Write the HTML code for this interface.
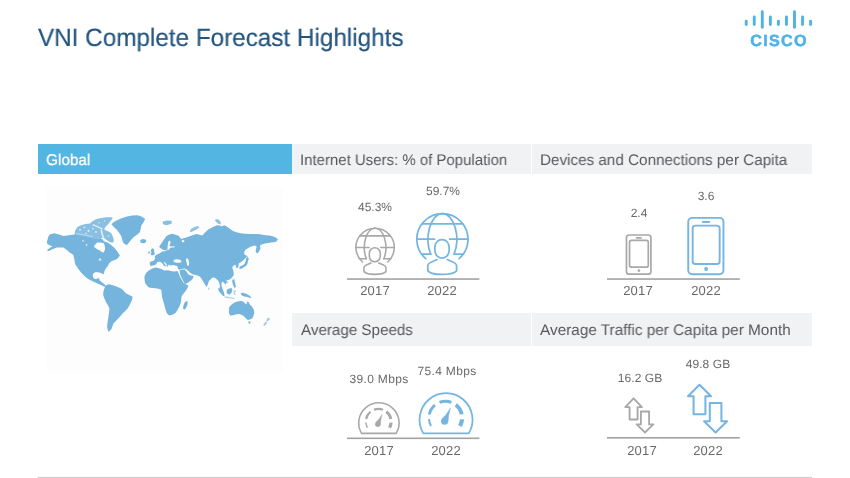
<!DOCTYPE html>
<html>
<head>
<meta charset="utf-8">
<title>VNI Complete Forecast Highlights</title>
<style>
html,body{margin:0;padding:0;background:#fff;}
body{width:850px;height:478px;position:relative;overflow:hidden;font-family:"Liberation Sans",sans-serif;text-rendering:geometricPrecision;}
.abs{position:absolute;white-space:nowrap;}
.title{left:37.65px;top:23.3px;font-size:25.1px;line-height:30px;color:#23557f;-webkit-text-stroke:0.2px #23557f;transform-origin:0 50%;transform:scaleX(0.967);will-change:transform;}
.hdr{position:absolute;background:#f0f2f4;}
.hdr span{position:absolute;left:8.25px;font-size:15.4px;color:#56585b;white-space:nowrap;transform-origin:0 50%;will-change:transform;}
.h1 span{top:7.72px;line-height:18px;}
.h2 span{top:8.6px;line-height:18px;}
.val{position:absolute;font-size:12px;line-height:14px;color:#696969;white-space:nowrap;transform:translateX(-50%);will-change:transform;}
.yr{position:absolute;font-size:13px;line-height:14px;letter-spacing:0.2px;color:#6a6a6a;white-space:nowrap;transform:translateX(-50%);will-change:transform;}
svg{position:absolute;left:0;top:0;will-change:transform;}
</style>
</head>
<body>
<div class="abs title">VNI Complete Forecast Highlights</div>

<!-- header bars -->
<div class="hdr h1" style="left:38px;top:144px;width:254px;height:30px;background:#53b5e2;"><span style="color:#fff;top:7.95px;left:8.4px;font-size:15.4px;-webkit-text-stroke:0.3px #fff;transform:scaleX(0.995);">Global</span></div>
<div class="hdr h1" style="left:292px;top:144px;width:238.5px;height:30px;"><span style="transform:scaleX(0.9726);">Internet Users: % of Population</span></div>
<div class="hdr h1" style="left:532px;top:144px;width:280px;height:30px;"><span style="left:8.2px;transform:scaleX(0.9896);">Devices and Connections per Capita</span></div>
<div class="hdr h2" style="left:292px;top:313px;width:238.5px;height:33px;"><span style="left:8.9px;transform:scaleX(0.9857);">Average Speeds</span></div>
<div class="hdr h2" style="left:532px;top:313px;width:280px;height:33px;"><span style="left:8.2px;transform:scaleX(0.9955);">Average Traffic per Capita per Month</span></div>

<!-- values -->
<div class="val" style="left:374.8px;top:199.5px;">45.3%</div>
<div class="val" style="left:442.6px;top:184.1px;">59.7%</div>
<div class="val" style="left:638.6px;top:205.7px;">2.4</div>
<div class="val" style="left:706.4px;top:189.15px;">3.6</div>
<div class="val" style="left:379.2px;top:372.4px;letter-spacing:0.35px;">39.0 Mbps</div>
<div class="val" style="left:446.9px;top:364px;letter-spacing:0.35px;">75.4 Mbps</div>
<div class="val" style="left:639.5px;top:371.4px;letter-spacing:0.05px;">16.2 GB</div>
<div class="val" style="left:708.2px;top:356.95px;letter-spacing:0.1px;">49.8 GB</div>

<!-- years -->
<div class="yr" style="left:374.6px;top:283.75px;">2017</div>
<div class="yr" style="left:442.2px;top:283.75px;">2022</div>
<div class="yr" style="left:638.3px;top:283.75px;">2017</div>
<div class="yr" style="left:706px;top:283.75px;">2022</div>
<div class="yr" style="left:378.7px;top:444.25px;">2017</div>
<div class="yr" style="left:445.9px;top:444.25px;">2022</div>
<div class="yr" style="left:642.3px;top:444.25px;">2017</div>
<div class="yr" style="left:707.5px;top:444.25px;">2022</div>

<svg width="850" height="478" viewBox="0 0 850 478">
<!-- bottom rule -->
<rect x="37.6" y="476.9" width="774.5" height="1.1" fill="#cecece"/>
<!-- baselines -->
<g fill="#a3a3a3">
<rect x="347" y="278.25" width="132.4" height="1.6"/>
<rect x="607" y="278.25" width="132.8" height="1.6"/>
<rect x="347" y="437.5" width="132.4" height="1.6"/>
<rect x="607" y="437.0" width="132.8" height="1.6"/>
</g>
<!--LOGO-->
<g stroke="#4fb3e5" stroke-width="2.9" stroke-linecap="round" fill="none"><path d="M746.20,21.1 L746.20,24.5"/><path d="M754.25,17.0 L754.25,24.5"/><path d="M762.30,11.7 L762.30,27.2"/><path d="M770.35,17.0 L770.35,24.5"/><path d="M778.40,21.1 L778.40,24.5"/><path d="M786.45,17.0 L786.45,24.5"/><path d="M794.50,11.7 L794.50,27.2"/><path d="M802.55,17.0 L802.55,24.5"/><path d="M810.60,21.1 L810.60,24.5"/></g><text x="779.0" y="45.5" text-anchor="middle" font-family="Liberation Sans, sans-serif" font-weight="bold" font-size="16.1" letter-spacing="1.3" fill="#4fb3e5" stroke="#4fb3e5" stroke-width="0.55" transform="translate(779 0) scale(1.002 1) translate(-779 0)">CISCO</text>
<!--/LOGO-->
<!--MAP-->
<defs><filter id="mb" x="-5%" y="-5%" width="110%" height="110%"><feGaussianBlur stdDeviation="0.45"/></filter></defs>
<rect x="46" y="188" width="237" height="183" fill="#fdfdfd"/>
<g fill="#74b4dd" filter="url(#mb)">
<path d="M47.2,241.1 L48.2,237.0 L49.6,234.6 L54.4,233.3 L59.0,234.6 L63.5,235.9 L69.0,235.2 L74.5,234.6 L80.0,235.5 L85.0,236.5 L90.7,237.9 L94.0,238.2 L97.5,238.6 L100.5,238.2 L102.6,239.6 L104.8,241.4 L107.5,242.6 L110.5,244.6 L114.0,247.6 L117.0,251.0 L119.9,255.4 L118.5,257.5 L116.6,259.3 L114.0,260.3 L111.4,261.2 L109.0,263.5 L108.0,265.7 L106.0,268.2 L104.5,271.0 L104.1,273.0 L103.6,274.6 L102.2,273.5 L100.0,272.8 L97.8,272.2 L95.6,271.9 L93.6,273.3 L92.6,275.5 L93.2,277.6 L94.7,279.0 L96.6,278.9 L98.2,278.1 L99.5,279.3 L100.0,280.8 L101.8,282.3 L103.6,283.5 L105.4,285.2 L106.2,286.6 L104.5,286.8 L102.0,285.6 L99.1,284.3 L96.5,283.0 L93.8,281.7 L90.0,279.9 L86.7,278.1 L84.0,275.6 L81.3,272.8 L78.0,268.5 L75.1,263.9 L74.4,259.5 L73.3,255.0 L71.5,253.5 L69.9,252.8 L66.5,249.8 L63.5,247.6 L60.0,247.4 L57.0,247.6 L54.0,248.5 L50.5,250.2 L47.6,251.2 L47.5,249.5 L50.6,247.6 L52.6,246.2 L50.2,245.4 L48.0,244.5 L46.8,243.0Z"/>
<path d="M74.5,234.8 L75.2,230.2 L77.5,227.0 L81.0,225.2 L85.5,224.0 L90.0,223.6 L92.6,221.2 L96.0,219.2 L101.0,217.9 L106.5,217.3 L112.2,217.2 L112.6,218.6 L110.4,221.0 L108.8,223.4 L106.8,225.6 L105.0,227.4 L104.2,229.4 L106.0,230.4 L108.6,231.6 L111.4,233.6 L113.0,237.0 L113.9,240.1 L113.2,242.4 L111.0,242.6 L108.6,241.2 L106.6,240.0 L104.8,238.6 L102.6,237.8 L100.5,238.4 L97.5,238.8 L94.0,238.6 L90.7,238.2 L85.0,237.0 L80.0,236.0Z" fill-opacity="0.86"/>
<path d="M111.4,224.3 L113.8,222.0 L116.6,220.4 L121.5,218.2 L127.0,216.5 L132.0,215.6 L137.4,215.2 L141.5,216.5 L145.2,219.1 L143.5,222.3 L141.3,225.6 L140.7,228.8 L140.0,232.0 L137.0,234.8 L133.5,237.2 L130.2,241.0 L127.0,245.0 L124.8,244.2 L123.1,242.4 L122.0,239.0 L121.2,235.9 L119.0,232.5 L116.6,229.5 L113.6,226.7Z"/>
<path d="M140.2,240.2 L142.5,239.0 L145.5,239.4 L146.4,241.1 L145.0,242.9 L142.5,243.3 L140.5,242.4Z"/>
<path d="M105.4,286.1 L107.0,284.8 L108.9,284.3 L112.0,285.0 L115.1,286.1 L118.3,287.3 L121.4,288.8 L123.7,290.8 L125.8,293.2 L129.2,295.0 L132.6,296.8 L132.2,299.5 L131.1,302.1 L129.5,305.3 L127.6,308.4 L125.0,311.2 L122.3,313.7 L120.0,316.4 L117.8,319.0 L115.5,321.3 L113.4,323.5 L112.4,326.2 L111.6,328.8 L110.2,330.6 L108.4,331.8 L107.5,329.0 L107.1,326.2 L107.6,321.7 L108.4,317.3 L109.0,312.8 L109.4,308.4 L107.8,305.1 L105.9,302.1 L104.4,298.5 L103.2,295.0 L103.3,292.2 L103.9,289.7Z"/>
<path d="M149.6,270.0 L152.5,268.5 L155.5,267.6 L160.0,268.6 L164.3,270.6 L168.0,270.3 L171.0,271.1 L174.2,271.5 L177.4,271.1 L178.6,273.2 L179.6,275.9 L181.4,279.2 L183.3,282.5 L185.8,284.2 L188.4,285.4 L187.2,288.4 L185.5,291.3 L183.6,293.6 L181.8,295.7 L181.3,298.6 L181.1,301.5 L180.2,304.5 L178.9,307.4 L177.1,310.4 L175.2,313.2 L172.3,314.8 L169.4,315.4 L167.7,314.2 L166.5,312.5 L165.3,308.5 L164.3,304.4 L163.1,300.8 L162.1,297.1 L161.6,293.5 L161.3,289.8 L158.4,288.8 L155.5,288.3 L152.2,288.1 L148.9,287.6 L146.8,285.6 L145.2,283.2 L144.6,279.9 L144.5,276.6 L145.4,274.3 L146.7,272.2Z"/>
<path d="M184.8,302.2 L186.4,301.3 L187.7,301.5 L187.6,303.8 L187.0,305.9 L186.0,308.0 L184.8,309.6 L183.6,309.2 L183.0,308.1 L183.6,305.1Z"/>
<path d="M179.4,270.6 L182.0,269.6 L184.8,269.6 L186.8,271.9 L188.4,274.4 L191.0,275.4 L193.5,275.9 L193.2,278.0 L191.3,280.3 L188.5,282.3 L185.5,284.0 L184.2,282.7 L183.3,281.0 L181.8,278.2 L180.4,275.2Z"/>
<path d="M150.4,266.1 L149.6,262.5 L151.5,261.2 L153.3,261.0 L155.0,259.0 L154.8,255.9 L157.0,254.4 L159.5,253.4 L161.3,252.2 L162.8,251.3 L164.3,251.5 L166.4,250.6 L167.6,248.8 L165.8,250.3 L163.5,250.0 L161.0,248.5 L159.1,247.1 L160.1,245.2 L161.3,243.5 L163.8,239.7 L166.5,236.1 L169.4,234.6 L172.3,233.7 L175.6,234.7 L178.9,236.1 L181.1,239.1 L183.6,238.3 L186.2,237.6 L191.0,235.8 L196.5,234.0 L199.5,234.8 L202.3,235.4 L205.0,232.5 L208.2,229.6 L212.5,227.2 L217.0,225.2 L220.0,225.5 L221.3,226.6 L224.3,225.2 L226.5,226.2 L227.9,227.4 L230.4,229.2 L233.0,231.0 L236.5,232.3 L240.4,233.2 L245.0,233.7 L250.6,234.0 L254.0,234.0 L257.9,234.0 L261.5,234.6 L265.2,235.2 L269.0,235.6 L272.6,236.3 L275.8,237.6 L277.9,239.6 L276.4,241.4 L274.0,242.2 L271.0,242.6 L268.2,243.0 L265.0,243.6 L262.3,244.2 L260.8,245.0 L259.8,246.0 L260.4,247.5 L260.3,249.3 L259.0,251.6 L257.4,253.4 L256.2,252.6 L255.6,250.8 L256.2,248.6 L256.6,246.6 L255.0,245.4 L252.6,246.0 L250.0,247.0 L247.4,248.4 L245.2,250.0 L244.2,252.2 L244.4,254.4 L246.0,255.2 L247.0,255.9 L245.4,258.2 L243.3,260.3 L241.2,261.9 L238.9,263.2 L238.6,265.0 L238.2,267.4 L236.8,268.2 L235.8,266.4 L235.6,264.8 L233.8,265.3 L232.6,266.8 L232.2,268.3 L233.2,270.0 L233.5,272.3 L233.8,274.9 L232.2,277.2 L230.1,279.3 L227.5,280.3 L226.5,279.6 L226.8,282.0 L225.8,284.5 L224.3,283.3 L222.6,281.5 L221.5,283.0 L221.6,286.0 L222.4,288.5 L223.6,291.5 L224.3,294.5 L223.4,295.6 L222.1,294.7 L220.6,291.8 L219.6,288.7 L219.9,285.5 L219.3,283.0 L218.4,281.1 L217.0,279.4 L215.5,278.2 L214.0,277.6 L212.6,277.4 L210.7,279.3 L208.9,281.1 L207.9,284.2 L206.7,287.0 L205.2,284.9 L203.8,282.6 L202.0,279.6 L200.1,276.7 L197.5,275.6 L195.0,274.8 L193.0,274.5 L190.8,273.2 L188.6,271.2 L186.6,269.4 L184.4,268.6 L181.5,268.9 L179.2,269.8 L177.8,268.6 L177.4,266.2 L173.5,264.9 L170.4,265.4 L168.6,264.6 L168.0,266.4 L166.9,266.6 L166.6,264.2 L165.2,262.6 L163.8,261.4 L164.4,263.6 L166.0,265.8 L165.2,266.8 L163.2,264.8 L161.6,262.4 L159.4,261.8 L157.2,261.9 L156.5,263.6 L155.6,264.8 L153.0,265.4Z"/>
<path d="M151.8,248.6 L153.0,248.4 L154.0,249.3 L154.2,251.5 L154.8,254.4 L153.0,255.2 L151.1,255.2 L150.8,253.6 L151.6,252.2 L150.6,251.0Z"/>
<path d="M148.4,251.4 L150.0,251.3 L150.2,253.4 L148.6,253.9 L147.9,252.8Z" fill-opacity="0.7"/>
<path d="M162.8,221.5 L167.0,220.4 L171.6,220.8 L171.6,223.7 L169.0,224.6 L166.5,225.2 L164.4,224.8 L162.8,223.7Z" fill-opacity="0.85"/>
<path d="M189.9,232.5 L190.3,230.3 L191.3,228.8 L194.5,227.1 L197.9,225.9 L199.4,227.4 L196.5,229.4 L193.5,231.0Z" fill-opacity="0.8"/>
<path d="M214.8,220.0 L216.5,219.3 L218.4,219.3 L220.2,221.6 L221.3,224.4 L219.0,224.0 L217.0,223.0Z" fill-opacity="0.8"/>
<path d="M238.9,268.3 L240.2,266.3 L242.4,265.5 L244.6,263.8 L245.6,261.3 L246.2,258.6 L247.6,257.6 L248.9,258.6 L247.9,261.3 L247.6,263.5 L246.2,265.8 L243.5,267.6 L241.0,269.0Z"/>
<path d="M246.4,256.0 L247.6,255.8 L248.0,258.0 L247.2,259.6 L246.2,258.4Z" fill-opacity="0.6"/>
<path d="M233.4,278.6 L234.6,278.6 L234.4,281.0 L233.4,281.0Z" fill-opacity="0.7"/>
<path d="M226.6,281.4 L228.2,281.4 L228.0,283.0 L226.6,283.0Z" fill-opacity="0.6"/>
<path d="M208.2,287.6 L209.4,287.9 L209.3,289.9 L208.2,289.6Z" fill-opacity="0.7"/>
<path d="M232.3,279.6 L234.5,280.4 L235.2,283.5 L236.0,287.0 L234.2,287.7 L233.4,285.8 L232.8,284.0 L232.2,281.8Z"/>
<path d="M217.7,288.4 L219.4,288.2 L221.6,290.6 L223.6,293.0 L224.8,295.6 L223.5,296.2 L221.3,294.0 L219.2,291.4Z"/>
<path d="M227.0,289.6 L229.2,288.4 L231.5,288.0 L232.4,290.0 L231.6,292.6 L230.0,294.4 L227.8,294.2 L226.6,292.2Z"/>
<path d="M224.3,296.5 L227.0,296.6 L230.5,297.3 L234.5,298.0 L234.4,298.9 L230.4,298.5 L226.8,297.9 L224.3,297.5Z" fill-opacity="0.6"/>
<path d="M233.6,290.4 L235.8,290.2 L236.4,291.2 L234.8,292.0 L235.6,295.0 L234.4,295.0 L233.6,293.0Z" fill-opacity="0.6"/>
<path d="M240.8,293.0 L243.2,292.8 L246.4,294.0 L249.4,295.4 L251.6,297.6 L250.4,298.0 L247.4,297.0 L244.2,296.6 L242.2,295.6 L241.0,294.4Z"/>
<path d="M229.0,307.4 L230.9,305.2 L233.0,303.6 L235.2,302.3 L237.8,301.4 L240.4,300.9 L242.4,301.2 L244.0,302.3 L245.0,303.6 L246.2,304.5 L247.0,302.6 L247.7,300.9 L248.8,302.6 L249.9,304.5 L251.8,306.6 L253.5,308.9 L254.1,311.1 L254.3,313.3 L253.4,316.0 L252.1,318.4 L250.0,319.6 L247.7,319.9 L245.8,318.2 L244.0,316.2 L241.5,314.8 L238.9,314.0 L236.6,314.2 L234.5,314.8 L232.2,315.5 L230.1,315.5 L229.2,313.7 L229.0,311.8Z"/>
<path d="M248.2,321.6 L250.6,321.6 L250.2,323.6 L248.8,323.8Z"/>
<path d="M267.4,318.2 L269.0,317.6 L270.0,319.0 L268.6,320.6 L267.2,321.6 L266.6,320.6Z" fill-opacity="0.7"/>
<path d="M263.4,324.6 L265.4,322.0 L267.0,321.6 L267.2,322.8 L265.4,325.0 L264.0,326.0Z" fill-opacity="0.7"/>
<path d="M93.8,246.4 L95.4,244.2 L97.0,242.6 L100.4,242.6 L103.9,243.3 L104.8,246.0 L105.1,248.9 L104.4,251.0 L103.3,252.7 L101.4,251.8 L99.5,250.2 L97.5,249.4 L95.7,248.3Z" fill="#fdfdfd"/>
<path d="M168.4,241.5 L170.2,240.6 L170.5,243.0 L169.5,245.5 L170.8,246.5 L174.5,246.2 L174.6,247.3 L170.4,247.8 L168.6,250.0 L167.4,250.2 L167.6,246.5Z" fill="#fdfdfd"/>
<path d="M173.6,260.0 L176.0,259.2 L179.0,259.6 L181.3,260.6 L181.0,262.4 L178.0,262.8 L175.0,262.4 L173.6,261.4Z" fill="#fdfdfd"/>
<path d="M186.0,258.8 L188.0,258.6 L188.8,261.0 L189.2,263.5 L188.8,265.6 L187.2,265.4 L186.8,263.0 L186.2,261.0Z" fill="#fdfdfd"/>
<path d="M181.5,240.5 L184.0,240.0 L184.5,241.6 L182.5,242.4Z" fill="#fdfdfd"/>
<circle cx="100" cy="259.6" r="1.3" fill="#fdfdfd" fill-opacity="0.7"/>
<circle cx="83" cy="240.8" r="0.9" fill="#fdfdfd" fill-opacity="0.7"/>
<circle cx="86.6" cy="245" r="0.9" fill="#fdfdfd" fill-opacity="0.7"/>
<circle cx="80" cy="229.8" r="1.0" fill="#fdfdfd" fill-opacity="0.7"/>
<circle cx="84.5" cy="227.4" r="0.9" fill="#fdfdfd" fill-opacity="0.7"/>
<circle cx="88.5" cy="230.8" r="1.1" fill="#fdfdfd" fill-opacity="0.7"/>
<circle cx="92.8" cy="228.6" r="0.9" fill="#fdfdfd" fill-opacity="0.7"/>
<circle cx="96" cy="232" r="1.0" fill="#fdfdfd" fill-opacity="0.7"/>
<circle cx="86" cy="233.4" r="0.8" fill="#fdfdfd" fill-opacity="0.7"/>
<circle cx="99" cy="223" r="0.8" fill="#fdfdfd" fill-opacity="0.7"/>
<circle cx="104.5" cy="221" r="0.7" fill="#fdfdfd" fill-opacity="0.7"/>
<circle cx="108.5" cy="236" r="0.8" fill="#fdfdfd" fill-opacity="0.7"/>
<path d="M92.6,224.6 L97.5,226.6 L102.6,229" stroke="#fdfdfd" stroke-opacity="0.75" stroke-width="1.3" fill="none"/>
<path d="M101.2,229.6 L102,233.5 L103.4,237.6 L104.6,241.6" stroke="#fdfdfd" stroke-opacity="0.8" stroke-width="1.5" fill="none"/>
<path d="M76,233.6 L82,234.4 L88,235.6 L93,236.6" stroke="#fdfdfd" stroke-opacity="0.45" stroke-width="1.0" fill="none"/>
</g>
<!--/MAP-->
<!--ICONS-->
<g fill="none" stroke="#a8a8a8" stroke-width="1.55" stroke-linecap="round" stroke-linejoin="round"><path d="M362.59,261.97 A19.20,19.20 0 1 1 387.61,261.97"/><path d="M359.76,235.85 L390.44,235.85"/><path d="M355.90,247.40 L369.05,247.40 M380.69,247.40 L394.30,247.40"/><path d="M359.54,258.66 L366.37,258.66 M383.83,258.66 L390.66,258.66"/><path d="M375.10,228.20 A10.78,19.20 0 0 0 366.37,258.66"/><path d="M375.10,228.20 A10.78,19.20 0 0 1 383.83,258.66"/><rect x="369.32" y="247.67" width="10.95" height="14.17" rx="5.48" ry="5.81"/><path d="M370.96,263.03 C368.21,264.71 363.92,264.71 363.92,267.93 L363.92,271.61 C367.44,275.28 382.30,275.28 385.98,271.61 L385.98,267.93 C385.98,264.71 381.61,264.71 378.78,263.03"/></g>
<g fill="none" stroke="#74b5e1" stroke-width="1.75" stroke-linecap="round" stroke-linejoin="round"><path d="M425.73,258.62 A25.60,25.60 0 1 1 459.07,258.62"/><path d="M421.95,223.80 L462.85,223.80"/><path d="M416.80,239.20 L434.50,239.20 M449.70,239.20 L468.00,239.20"/><path d="M421.66,254.21 L430.76,254.21 M454.04,254.21 L463.14,254.21"/><path d="M442.40,213.60 A14.37,25.60 0 0 0 430.76,254.21"/><path d="M442.40,213.60 A14.37,25.60 0 0 1 454.04,254.21"/><rect x="434.85" y="239.55" width="14.30" height="18.50" rx="7.15" ry="7.58"/><path d="M437.00,259.60 C433.40,261.80 427.80,261.80 427.80,266.00 L427.80,270.80 C432.40,275.60 451.80,275.60 456.60,270.80 L456.60,266.00 C456.60,261.80 450.90,261.80 447.20,259.60"/></g>
<g fill="none" stroke="#a8a8a8" stroke-width="1.7" stroke-linecap="round"><rect x="626.47" y="235.00" width="24.46" height="39.20" rx="2.78"/><rect x="629.53" y="240.42" width="18.76" height="26.69" rx="1.95"/><path d="M636.62,237.85 L640.99,237.85"/></g><circle cx="638.91" cy="270.59" r="1.36" fill="#a8a8a8"/>
<g fill="none" stroke="#74b5e1" stroke-width="1.9" stroke-linecap="round"><rect x="688.25" y="217.85" width="35.20" height="56.40" rx="4.00"/><rect x="692.65" y="225.65" width="27.00" height="38.40" rx="2.80"/><path d="M702.85,221.95 L709.15,221.95"/></g><circle cx="706.15" cy="269.05" r="1.95" fill="#74b5e1"/>
<path d="M361.57,433.35 A20.19,20.19 0 1 1 396.23,433.35 Z" fill="none" stroke="#a8a8a8" stroke-width="1.6" stroke-linejoin="round"/><path d="M367.42,427.67 A12.65,12.65 0 0 1 365.87,422.51" fill="none" stroke="#a8a8a8" stroke-width="1.52"/><path d="M366.09,418.97 A12.65,12.65 0 0 1 370.45,411.76" fill="none" stroke="#a8a8a8" stroke-width="2.21"/><path d="M373.91,409.75 A12.65,12.65 0 0 1 382.95,409.71" fill="none" stroke="#a8a8a8" stroke-width="2.29"/><path d="M386.34,411.63 A12.65,12.65 0 0 1 390.86,418.95" fill="none" stroke="#a8a8a8" stroke-width="2.90"/><path d="M391.08,422.66 A12.65,12.65 0 0 1 389.50,427.75" fill="none" stroke="#a8a8a8" stroke-width="3.20"/><circle cx="377.80" cy="424.13" r="2.67" fill="#a8a8a8"/><path d="M380.40,424.56 Q380.38,420.30 382.21,414.22 Q378.92,419.64 375.73,422.48 Z" fill="#a8a8a8" stroke="#a8a8a8" stroke-width="0.38" stroke-linejoin="round"/>
<path d="M423.31,433.35 A26.50,26.50 0 1 1 468.79,433.35 Z" fill="none" stroke="#74b5e1" stroke-width="1.75" stroke-linejoin="round"/><path d="M430.98,425.90 A16.60,16.60 0 0 1 428.95,419.12" fill="none" stroke="#74b5e1" stroke-width="2.00"/><path d="M429.24,414.48 A16.60,16.60 0 0 1 434.96,405.02" fill="none" stroke="#74b5e1" stroke-width="2.90"/><path d="M439.50,402.37 A16.60,16.60 0 0 1 451.37,402.32" fill="none" stroke="#74b5e1" stroke-width="3.00"/><path d="M455.81,404.84 A16.60,16.60 0 0 1 461.75,414.46" fill="none" stroke="#74b5e1" stroke-width="3.80"/><path d="M462.03,419.33 A16.60,16.60 0 0 1 459.96,426.00" fill="none" stroke="#74b5e1" stroke-width="4.20"/><circle cx="444.60" cy="421.25" r="3.50" fill="#74b5e1"/><path d="M448.02,421.82 Q447.99,416.22 450.40,408.25 Q446.08,415.36 441.89,419.08 Z" fill="#74b5e1" stroke="#74b5e1" stroke-width="0.50" stroke-linejoin="round"/>
<path d="M633.6,398.3 L641.9,407.1 L637.6,407.1 L637.6,419.5 L629.6,419.5 L629.6,407.1 L625.3000000000001,407.1 Z" fill="#fff" stroke="#a8a8a8" stroke-width="1.85" stroke-linejoin="round"/>
<path d="M645.0,432.5 L653.3,424.4 L649.1,424.4 L649.1,411.5 L640.9,411.5 L640.9,424.4 L636.7,424.4 Z" fill="#fff" stroke="#a8a8a8" stroke-width="1.85" stroke-linejoin="round"/>
<path d="M699.5,384.7 L711.0,396.2 L705.4,396.2 L705.4,414.3 L693.6,414.3 L693.6,396.2 L688.0,396.2 Z" fill="#fff" stroke="#74b5e1" stroke-width="2.0" stroke-linejoin="round"/>
<path d="M715.6,432.5 L727.1,421.2 L721.4,421.2 L721.4,402.9 L709.8000000000001,402.9 L709.8000000000001,421.2 L704.1,421.2 Z" fill="#fff" stroke="#74b5e1" stroke-width="2.0" stroke-linejoin="round"/>
<!--/ICONS-->
</svg>
</body>
</html>
